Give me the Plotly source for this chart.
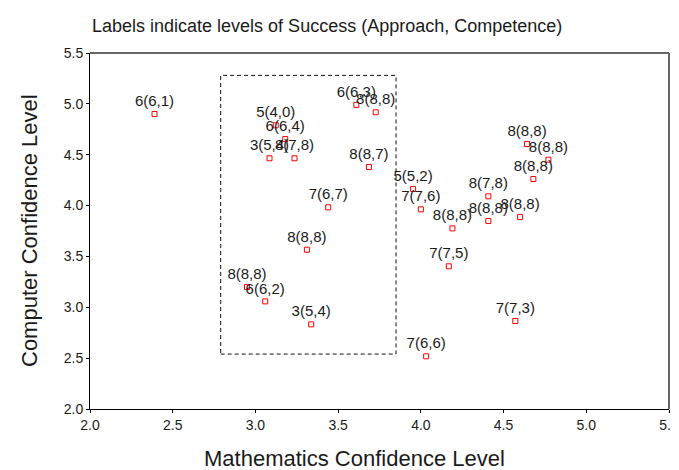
import plotly.graph_objects as go

# Data
math_conf = [2.39, 3.61, 3.727, 3.123, 3.18, 3.085, 3.236, 3.686, 3.953, 3.44,
             4.00, 3.311, 2.949, 3.059, 3.337, 4.032, 4.191, 4.408, 4.408, 4.60,
             4.642, 4.771, 4.68, 4.169, 4.571]
comp_conf = [4.90, 4.99, 4.917, 4.789, 4.654, 4.465, 4.465, 4.379, 4.163, 3.983,
             3.963, 3.566, 3.199, 3.058, 2.832, 2.518, 3.776, 4.091, 3.848, 3.887,
             4.605, 4.451, 4.261, 3.403, 2.865]
point_labels = ["6(6,1)", "6(6,3)", "8(8,8)", "5(4,0)", "6(6,4)", "3(5,4)", "8(7,8)", "8(8,7)",
                "5(5,2)", "7(6,7)", "7(7,6)", "8(8,8)", "8(8,8)", "6(6,2)", "3(5,4)", "7(6,6)",
                "8(8,8)", "8(7,8)", "8(8,8)", "8(8,8)", "8(8,8)", "8(8,8)", "8(8,8)", "7(7,5)",
                "7(7,3)"]
box_x = [2.79, 3.85]
box_y = [2.54, 5.28]
tick_vals = [2.0, 2.5, 3.0, 3.5, 4.0, 4.5, 5.0, 5.5]

FONT = "Liberation Sans, Arial, sans-serif"

fig = go.Figure()
fig.add_trace(go.Scatter(
    x=math_conf, y=comp_conf, mode="markers+text",
    text=point_labels, textposition="top center",
    textfont=dict(family=FONT, size=15, color="#1a1a1a"),
    marker=dict(symbol="square-open", size=5, color="red", line=dict(width=1, color="red")),
    showlegend=False, cliponaxis=False,
))

fig.add_shape(type="rect", xref="x", yref="y",
              x0=box_x[0], x1=box_x[1], y0=box_y[0], y1=box_y[1],
              line=dict(color="#111", width=1, dash="4px,3px"))

# top and right frame lines (gray)
fig.add_shape(type="line", xref="paper", yref="paper", x0=0, x1=1, y0=1, y1=1,
              line=dict(color="#666", width=2), layer="above")
fig.add_shape(type="line", xref="paper", yref="paper", x0=1, x1=1, y0=0, y1=1,
              line=dict(color="#666", width=2), layer="above")

axis_common = dict(range=[2.0, 5.5], tickvals=tick_vals, tickformat=".1f",
                   showgrid=False, zeroline=False, showline=True, linecolor="black",
                   linewidth=1, ticks="outside", ticklen=3, tickcolor="black",
                   ticklabeloverflow="allow",
                   tickfont=dict(family=FONT, size=14, color="#1a1a1a"))
fig.update_xaxes(**axis_common)
fig.update_yaxes(**axis_common)

fig.add_annotation(text="Labels indicate levels of Success (Approach, Competence)",
                   xref="paper", yref="paper", x=0, y=1, xanchor="left", yanchor="middle",
                   xshift=0, yshift=27, showarrow=False,
                   font=dict(family=FONT, size=18, color="#1a1a1a"))
fig.add_annotation(text="Mathematics Confidence Level",
                   xref="paper", yref="paper", x=0.4567, y=0, xanchor="center", yanchor="middle",
                   yshift=-49, showarrow=False,
                   font=dict(family=FONT, size=22, color="#1a1a1a"))
fig.add_annotation(text="Computer Confidence Level", textangle=-90,
                   xref="paper", yref="paper", x=0, y=0.5, xanchor="center", yanchor="middle",
                   xshift=-61, showarrow=False,
                   font=dict(family=FONT, size=22, color="#1a1a1a"))

fig.update_layout(width=679, height=470, margin=dict(l=82, r=8, t=45, b=69),
                  paper_bgcolor="white", plot_bgcolor="white",
                  font=dict(family=FONT))

fig.write_html("out.html")
